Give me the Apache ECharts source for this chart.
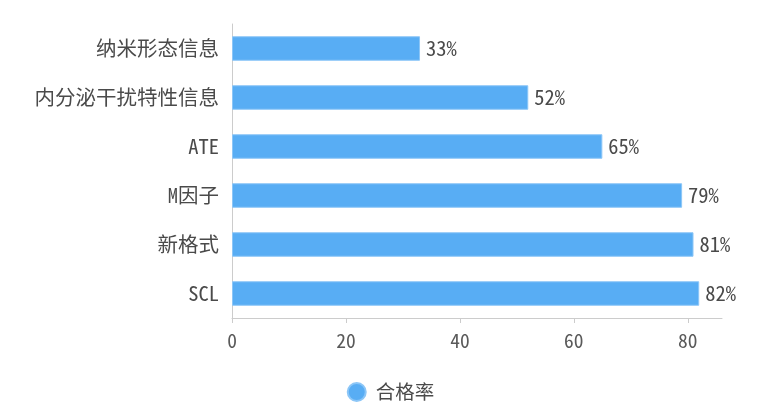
<!DOCTYPE html>
<html><head><meta charset="utf-8">
<script src="https://cdn.jsdelivr.net/npm/echarts@6/dist/echarts.min.js"></script>
<style>html,body{margin:0;padding:0;background:#fff}#c{width:781px;height:418px}</style>
</head><body><div id="c"></div>
<script>
const categories = ['SCL', '新格式', 'M因子', 'ATE', '内分泌干扰特性信息', '纳米形态信息'];
const values = [82, 81, 79, 65, 52, 33];
const seriesName = '合格率';
const xTicks = [0, 20, 40, 60, 80];

function hasFont(name) {
  const c = document.createElement('canvas').getContext('2d');
  const s = 'ATE82%mwil纳米';
  for (const base of ['monospace', 'serif']) {
    c.font = '20px ' + base; const w0 = c.measureText(s).width;
    c.font = '20px "' + name + '", ' + base; const w1 = c.measureText(s).width;
    if (Math.abs(w0 - w1) > 0.5) return true;
  }
  return false;
}
const candidates = ['Noto Sans Mono CJK SC', 'Liberation Sans Narrow', 'DejaVu Sans Condensed'];
let primary = candidates.find(hasFont);
const FONT = (primary ? '"' + primary + '", ' : '') + '"Noto Sans CJK SC", sans-serif';

const chart = echarts.init(document.getElementById('c'));
chart.setOption({
  backgroundColor: '#fff',
  grid: { left: 232, right: 59, top: 24, bottom: 100 },
  legend: {
    data: [{ name: seriesName, icon: 'circle' }],
    top: 377, left: 'center', itemWidth: 18, itemHeight: 18, itemGap: 10,
    textStyle: { fontSize: 19.5, color: '#4a4a4a', fontFamily: FONT, padding: [0, 0, 0, 5] }
  },
  xAxis: {
    type: 'value', min: 0, max: 86, interval: 20,
    axisLine: { show: true, lineStyle: { color: '#ccc' } },
    axisTick: { show: true, lineStyle: { color: '#ccc' } },
    splitLine: { show: false },
    axisLabel: { color: '#5a5a5a', fontSize: 19.5, fontFamily: FONT, margin: 13,
      formatter: v => xTicks.includes(v) ? String(v) : '', showMaxLabel: false }
  },
  yAxis: {
    type: 'category', data: categories,
    axisLine: { lineStyle: { color: '#ccc' } },
    axisTick: { lineStyle: { color: '#ccc' } },
    axisLabel: { color: '#4a4a4a', fontSize: 20.5, fontFamily: FONT, margin: 13 }
  },
  series: [{
    name: seriesName, type: 'bar', data: values, barWidth: '50%',
    itemStyle: { color: '#58adf4', borderColor: '#8cc6f7', borderWidth: 1 },
    label: { show: true, position: 'right', formatter: '{c}%', color: '#4a4a4a', fontSize: 20.5, fontFamily: FONT, distance: 6 }
  }]
});
</script></body></html>
